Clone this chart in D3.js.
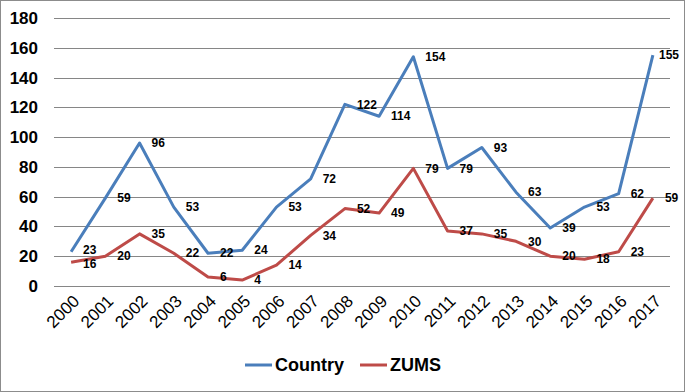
<!DOCTYPE html>
<html>
<head>
<meta charset="utf-8">
<script src="https://cdn.jsdelivr.net/npm/d3@7"></script>
<style>
  body { margin: 0; background: #fff; }
  text { font-family: "Liberation Sans", Arial, sans-serif; }
</style>
</head>
<body>
<div id="canvas"></div>
<script>
"use strict"

let years = ["2000","2001","2002","2003","2004","2005","2006","2007","2008",
    "2009","2010","2011","2012","2013","2014","2015","2016","2017"];
let countryValues = [23,59,96,53,22,24,53,72,122,114,154,79,93,63,39,53,62,155];
let zumsValues = [16,20,35,22,6,4,14,34,52,49,79,37,35,30,20,18,23,59];
let yTicks = [0,20,40,60,80,100,120,140,160,180];

let drawingWidth = 685;
let drawingHeight = 392;

let plotLeft = 54, plotRight = 670, plotTop = 18, plotBottom = 286;

let drawing = d3.select("#canvas")
    .append("svg")
    .attr("width", drawingWidth)
    .attr("height", drawingHeight);

/* outer border of the chart area */
drawing.append("rect")
    .attr("x", 0.5)
    .attr("y", 0.5)
    .attr("width", drawingWidth - 1)
    .attr("height", drawingHeight - 1)
    .attr("fill", "white")
    .attr("stroke", "#8c8c8c");

let x = d3.scaleBand()
    .domain(years)
    .range([plotLeft, plotRight]);

let y = d3.scaleLinear()
    .domain([0, 180])
    .range([plotBottom, plotTop]);

let px = d => x(d) + x.bandwidth() / 2;

/* gridlines */
drawing.append("g")
    .selectAll("line")
    .data(yTicks)
    .join("line")
    .attr("x1", plotLeft)
    .attr("x2", plotRight)
    .attr("y1", d => Math.round(y(d)) + 0.5)
    .attr("y2", d => Math.round(y(d)) + 0.5)
    .attr("stroke", "#868686")
    .attr("stroke-width", 1);

/* y axis labels */
let yAxis = drawing.append("g")
    .attr("transform", `translate(${plotLeft - 16},0)`)
    .call(d3.axisLeft(y).tickValues(yTicks).tickSize(0).tickPadding(0));
yAxis.select(".domain").remove();
yAxis.selectAll("text")
    .attr("font-size", 17)
    .attr("font-weight", "bold")
    .attr("fill", "#000")
    .attr("font-family", "Liberation Sans, Arial, sans-serif");

/* x axis labels, rotated */
drawing.append("g")
    .selectAll("text")
    .data(years)
    .join("text")
    .attr("transform", d => `translate(${px(d) + 5},${plotBottom + 12}) rotate(-45)`)
    .attr("text-anchor", "end")
    .attr("dy", "0.35em")
    .attr("font-size", 17)
    .attr("fill", "#000")
    .text(d => d);

let series = [
    { name: "Country", values: countryValues, color: "#4a7ebb", nudge: -1 },
    { name: "ZUMS", values: zumsValues, color: "#be4b48", nudge: 1 }
];

let line = d3.line()
    .x((d, i) => px(years[i]))
    .y(d => y(d));

series.forEach(s => {
    drawing.append("path")
        .attr("d", line(s.values))
        .attr("fill", "none")
        .attr("stroke", s.color)
        .attr("stroke-width", 3)
        .attr("stroke-linejoin", "round");
});

/* data labels, right of each point; push apart labels that sit too close */
series.forEach(s => {
    drawing.append("g")
        .selectAll("text")
        .data(s.values)
        .join("text")
        .attr("x", (d, i) => px(years[i]) + 12)
        .attr("y", (d, i) => {
            let gap = Math.abs(y(countryValues[i]) - y(zumsValues[i]));
            return y(d) + (gap < 14 ? s.nudge * (14 - gap) / 2 : 0);
        })
        .attr("dy", "0.35em")
        .attr("font-size", 12)
        .attr("font-weight", "bold")
        .attr("fill", "#000")
        .text(d => d)
        .each(function () {
            // keep labels inside the chart border
            let w = this.getComputedTextLength();
            let lx = +this.getAttribute("x");
            if (lx + w > drawingWidth - 6) this.setAttribute("x", drawingWidth - 6 - w);
        });
});

/* legend */
let legendItems = [
    { name: "Country", color: "#4a7ebb", x: 245 },
    { name: "ZUMS", color: "#be4b48", x: 360 }
];
let legend = drawing.append("g");
legendItems.forEach(l => {
    legend.append("line")
        .attr("x1", l.x)
        .attr("x2", l.x + 27)
        .attr("y1", 365)
        .attr("y2", 365)
        .attr("stroke", l.color)
        .attr("stroke-width", 3);
    legend.append("text")
        .attr("x", l.x + 30)
        .attr("y", 365)
        .attr("dy", "0.35em")
        .attr("font-size", 18)
        .attr("font-weight", "bold")
        .attr("fill", "#000")
        .text(l.name);
});
</script>
</body>
</html>
